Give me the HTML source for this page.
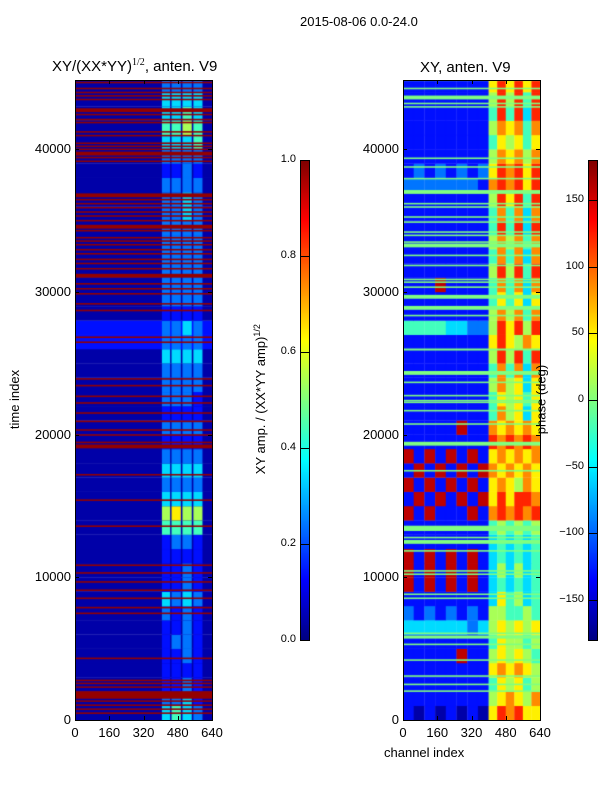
<!DOCTYPE html>
<html><head><meta charset="utf-8">
<style>
body{margin:0;background:#fff;}
#root{position:relative;width:600px;height:800px;background:#fff;font-family:"Liberation Sans","DejaVu Sans",sans-serif;color:#000;overflow:hidden;}
.t{position:absolute;white-space:nowrap;}
canvas{position:absolute;}
</style></head>
<body>
<div id="root">
<div class="t" style="left:300px;top:14px;font-size:13px;">2015-08-06 0.0-24.0</div>
<div class="t" style="left:52px;top:57px;font-size:15px;">XY/(XX*YY)<sup style="font-size:10px;font-family:'Liberation Serif',serif;">1/2</sup>, anten. V9</div>
<div class="t" style="left:420px;top:59px;font-size:15px;">XY, anten. V9</div>
<canvas id="cL" width="137" height="640" style="left:75px;top:80px;"></canvas>
<canvas id="cR" width="137" height="640" style="left:403px;top:80px;"></canvas>
<canvas id="cb1" width="9" height="480" style="left:300px;top:160px;"></canvas>
<canvas id="cb2" width="9" height="480" style="left:588px;top:160px;"></canvas>
<div class="t" style="left:-15px;top:392px;font-size:13px;transform:rotate(-90deg);">time index</div>
<div class="t" style="left:384px;top:745px;font-size:13px;">channel index</div>
<div class="t" style="left:180px;top:391px;font-size:13px;transform:rotate(-90deg);width:160px;text-align:center;">XY amp. / (XX*YY amp)<sup style="font-size:9px;">1/2</sup></div>
<div class="t" style="left:503px;top:392px;font-size:13px;transform:rotate(-90deg);width:76px;text-align:center;">phase (deg)</div>
</div>
<script>
// ---- data ----
const tMax = 44845;
const rowSize = 1000;
const yTicks = [0, 10000, 20000, 30000, 40000];
const xTicks = [0, 160, 320, 480, 640];
const cb1Ticks = [0.0, 0.2, 0.4, 0.6, 0.8, 1.0];
const cb2Ticks = [-150, -100, -50, 0, 50, 100, 150];
const stripeChL = [[406,443],[451,493],[502,544],[553,594]];
const rowsL = ["3432","2231","1121","1111","1121","1221","1121","2121","3232","1121",
 "1121","1111","1221","4444","5655","3333","2222","3333","2222","1111",
 "2222","1111","2221","2222","2222","3333","2222","2232","1111","2222",
 "2222","2222","2222","2222","2222","2232","2232","2222","1121","2222",
 "3334","4454","3343","3333","2222"];
const baseL = ["0","0","0","0","0","0","0","0","0","0","0","0","0","0","0","0","0","0","0","0",
 "0","0","0","0","0","0","1","1","0","0","0","0","0","0","0","0","0","0","0","0",
 "0","0","0","0","0"];
const redT = [44680,44260,43980,43745,43490,42740,42435,42085,41875,41220,40960,40425,40210,40000,39700,39420,39160,
 36775,36470,36190,35910,35605,35325,35000,34575,34295,33805,33570,33315,32965,32680,32285,32000,31630,31140,30575,30225,29875,29170,28705,26830,26480,23910,23440,22690,
 22225,21520,20935,20330,19980,19460,19180,17195,15415,13590,10855,10315,9685,9100,8540,7885,7485,4330,2785,2575,2315,1895,1635,1335,1050,770,490];
const redW = [90,90,90,90,90,250,90,90,90,90,90,90,90,90,250,90,90,
 250,90,90,90,90,90,90,250,90,90,90,90,90,90,90,90,90,250,90,90,90,90,90,90,90,90,90,90,
 90,90,90,90,90,90,250,90,90,90,90,90,90,90,90,90,90,90,90,90,90,250,250,90,90,90,90];
const leftR = ["10101010","11111111","11111111","11111111","11111911","11111111","33333323","21212121","11111111","91919191",
 "91919191","91919191","11111111","11111111","91911191","19191919","91919191","19191919","91919191","11111111",
 "11111911","11111111","11111111","11111111","11111111","11111111","11111111","44443322","11111111","11111111",
 "11191111","11111111","11111111","11111111","11111111","11111111","11111111","22222221","12121212","11111111",
 "11111111","11111111","11111111","11111111","11111111"];
const rightR = ["687866","567657","465645","676765","565654","465545","565656","554454","364534","343434",
 "353534","343434","343434","454545","787878","686887","676576","767676","676767","878787",
 "767676","475636","465646","575636","474737","585848","686576","586858","575747","464636",
 "474737","585848","474737","575747","484838","474737","586848","787868","687868","576757",
 "465646","576747","484838","585848","686868"];
const greenT = [44845,44260,43630,43210,42970,39370,38760,37945,37010,36190,35955,35255,34900,34200,33970,33500,33265,32565,31860,30880,30690,30340,29665,28890,28350,25970,24330,23670,22740,22390,
 22270,21685,20750,19370,17475,13440,12795,12490,11860,10455,10225,8820,8540,6085,5825,5310,4210,3090,2505,2035];
const greenW = [90,90,250,90,90,90,90,90,250,90,90,90,90,90,90,90,250,90,90,90,90,90,250,250,90,120,250,90,90,90,
 90,90,90,250,90,350,90,250,90,90,90,90,90,90,200,90,90,90,90,90];

function jet(v){
  v=Math.max(0,Math.min(1,v));
  const c=(x)=>Math.max(0,Math.min(1,x));
  const r=c(1.5-Math.abs(4*v-3)), g=c(1.5-Math.abs(4*v-2)), b=c(1.5-Math.abs(4*v-1));
  return `rgb(${Math.round(r*255)},${Math.round(g*255)},${Math.round(b*255)})`;
}
const lev = d => 0.04 + 0.1*(+d);
const yPx = t => 640 - t/tMax*640;
const xPx = ch => ch/640*137;

function cell(ctx,c0,c1,t0,t1,v){
  ctx.fillStyle=jet(v);
  const x0=xPx(c0),x1=xPx(c1),y0=yPx(t1),y1=yPx(t0);
  ctx.fillRect(x0,y0,x1-x0+0.3,y1-y0+0.3);
}
const L=document.getElementById('cL').getContext('2d');
rowsL.forEach((s,i)=>{
  const t0=i*rowSize,t1=Math.min(tMax,(i+1)*rowSize);
  cell(L,0,640,t0,t1,lev(baseL[i]));
  stripeChL.forEach((sc,j)=>cell(L,sc[0],sc[1],t0,t1,lev(s[j])));
});
redT.forEach((t,i)=>cell(L,0,640,t-redW[i]/2,t+redW[i]/2,0.98));
const R=document.getElementById('cR').getContext('2d');
leftR.forEach((s,i)=>{
  const t0=i*rowSize,t1=Math.min(tMax,(i+1)*rowSize);
  for(let j=0;j<8;j++) cell(R,j*50,(j+1)*50,t0,t1,lev(s[j]));
  const r=rightR[i];
  for(let j=0;j<6;j++) cell(R,400+j*40,440+j*40,t0,t1,lev(r[j]));
});
greenT.forEach((t,i)=>cell(R,0,640,t-greenW[i]/2,t+greenW[i]/2,0.5));
['cb1','cb2'].forEach(id=>{
  const c=document.getElementById(id).getContext('2d');
  for(let y=0;y<480;y++){c.fillStyle=jet(1-y/480);c.fillRect(0,y,9,1);}
});

const root=document.getElementById('root');
function add(css,txt,name){
  const e=document.createElement('div');
  e.style.cssText=css;
  if(txt!==undefined) e.textContent=txt;
  
  
  root.appendChild(e); return e;
}
[[75,'left'],[403,'right']].forEach(([ax,p])=>{
  add(`position:absolute;left:${ax}px;top:80px;width:138px;height:641px;border:1px solid #000;box-sizing:border-box;`,undefined,p+'-axes-frame');
  yTicks.forEach(t=>{
    const y=80+yPx(t);
    add(`position:absolute;left:${ax-46}px;top:${y-8}px;width:42px;text-align:right;font-size:13px;`,String(t),p+'-y-tick-label');
    add(`position:absolute;left:${ax}px;top:${y}px;width:4px;height:1px;background:#000;`,undefined,p+'-y-tick');
    add(`position:absolute;left:${ax+133}px;top:${y}px;width:4px;height:1px;background:#000;`,undefined,p+'-y-tick-right');
  });
  xTicks.forEach(ch=>{
    const x=ax+xPx(ch);
    add(`position:absolute;left:${x-20}px;top:725px;width:40px;text-align:center;font-size:13px;`,String(ch),p+'-x-tick-label');
    add(`position:absolute;left:${x}px;top:716px;width:1px;height:4px;background:#000;`,undefined,p+'-x-tick');
    add(`position:absolute;left:${x}px;top:80px;width:1px;height:4px;background:#000;`,undefined,p+'-x-tick-top');
  });
});
function cbAxis(cx,ticks,vmin,vmax,fmt,p){
  add(`position:absolute;left:${cx}px;top:160px;width:10px;height:481px;border:1px solid #000;box-sizing:border-box;`,undefined,p+'-colorbar-frame');
  ticks.forEach(v=>{
    const y=160+480-(v-vmin)/(vmax-vmin)*480;
    add(`position:absolute;left:${cx-40}px;top:${y-7}px;width:36px;text-align:right;font-size:11px;`,fmt(v),p+'-colorbar-tick-label');
    add(`position:absolute;left:${cx}px;top:${y}px;width:10px;height:1px;background:#000;`,undefined,p+'-colorbar-tick');
  });
}
cbAxis(300,cb1Ticks,0,1,v=>v.toFixed(1),'amplitude');
cbAxis(588,cb2Ticks,-180,180,v=>(v<0?'\u2212'+(-v):String(v)),'phase');
</script>
</body></html>
